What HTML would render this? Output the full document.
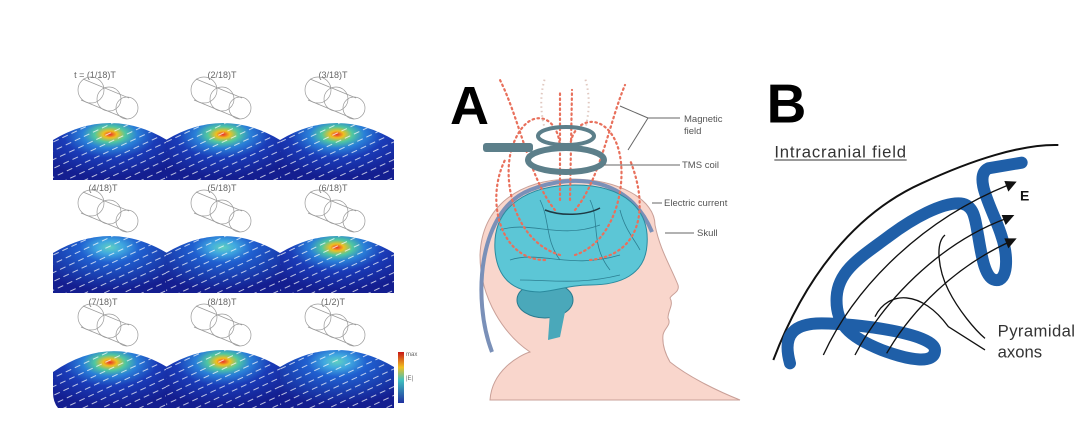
<!DOCTYPE html>
<html><head><meta charset="utf-8"><style>
html,body{margin:0;padding:0;background:#fff;}
svg{display:block;}
text{font-family:"Liberation Sans",sans-serif;}
</style></head><body>
<svg width="1080" height="446" viewBox="0 0 1080 446" xmlns="http://www.w3.org/2000/svg">
<defs>
<radialGradient id="hot" cx="0.5" cy="0.2" r="0.75">
<stop offset="0" stop-color="#e8302a"/>
<stop offset="0.08" stop-color="#f0c020"/>
<stop offset="0.18" stop-color="#50c8a0"/>
<stop offset="0.32" stop-color="#2a80d8"/>
<stop offset="0.55" stop-color="#1a3cb8"/>
<stop offset="1" stop-color="#141e90"/>
</radialGradient>
<radialGradient id="cool" cx="0.5" cy="0.2" r="0.75">
<stop offset="0" stop-color="#60d0c0"/>
<stop offset="0.15" stop-color="#40a8e0"/>
<stop offset="0.35" stop-color="#2060d0"/>
<stop offset="1" stop-color="#141e90"/>
</radialGradient>
<pattern id="arr" width="10" height="8" patternUnits="userSpaceOnUse" patternTransform="rotate(-25)">
<line x1="1" y1="4" x2="7" y2="4" stroke="#fff" stroke-width="0.9" opacity="0.8"/>
</pattern>
<linearGradient id="cb" x1="0" y1="0" x2="0" y2="1">
<stop offset="0" stop-color="#c81818"/><stop offset="0.3" stop-color="#f0c020"/>
<stop offset="0.55" stop-color="#40c0c0"/><stop offset="1" stop-color="#2030a0"/>
</linearGradient>
<g id="wf" fill="none" stroke="#999" stroke-width="0.7"><circle cx="38" cy="-30" r="13"/><circle cx="56" cy="-21" r="12"/><circle cx="74" cy="-12" r="11"/><line x1="30" y1="-41" x2="76" y2="-22"/><line x1="28" y1="-20" x2="74" y2="-1"/></g>
</defs>

<g font-size="9" fill="#666">
<text x="95" y="78" text-anchor="middle">t = (1/18)T</text>
<text x="222" y="78" text-anchor="middle">(2/18)T</text>
<text x="333" y="78" text-anchor="middle">(3/18)T</text>
<text x="103" y="191" text-anchor="middle">(4/18)T</text>
<text x="222" y="191" text-anchor="middle">(5/18)T</text>
<text x="333" y="191" text-anchor="middle">(6/18)T</text>
<text x="103" y="305" text-anchor="middle">(7/18)T</text>
<text x="222" y="305" text-anchor="middle">(8/18)T</text>
<text x="333" y="305" text-anchor="middle">(1/2)T</text>
</g>
<g>
<g transform="translate(53,120)"><path d="M0,20 Q57,-14 114,20 L114,60 L0,60Z" fill="url(#hot)"/><path d="M0,20 Q57,-14 114,20 L114,60 L0,60Z" fill="url(#arr)"/><use href="#wf"/></g>
<g transform="translate(166,120)"><path d="M0,20 Q57,-14 114,20 L114,60 L0,60Z" fill="url(#hot)"/><path d="M0,20 Q57,-14 114,20 L114,60 L0,60Z" fill="url(#arr)"/><use href="#wf"/></g>
<g transform="translate(280,120)"><path d="M0,20 Q57,-14 114,20 L114,60 L0,60Z" fill="url(#hot)"/><path d="M0,20 Q57,-14 114,20 L114,60 L0,60Z" fill="url(#arr)"/><use href="#wf"/></g>
<g transform="translate(53,233)"><path d="M0,20 Q57,-14 114,20 L114,60 L0,60Z" fill="url(#cool)"/><path d="M0,20 Q57,-14 114,20 L114,60 L0,60Z" fill="url(#arr)"/><use href="#wf"/></g>
<g transform="translate(166,233)"><path d="M0,20 Q57,-14 114,20 L114,60 L0,60Z" fill="url(#cool)"/><path d="M0,20 Q57,-14 114,20 L114,60 L0,60Z" fill="url(#arr)"/><use href="#wf"/></g>
<g transform="translate(280,233)"><path d="M0,20 Q57,-14 114,20 L114,60 L0,60Z" fill="url(#hot)"/><path d="M0,20 Q57,-14 114,20 L114,60 L0,60Z" fill="url(#arr)"/><use href="#wf"/></g>
<g transform="translate(53,347)"><path d="M0,25 Q57,-14 114,20 L114,61 L5,61 Q0,55 0,45Z" fill="url(#hot)"/><path d="M0,25 Q57,-14 114,20 L114,61 L5,61 Q0,55 0,45Z" fill="url(#arr)"/><use href="#wf"/></g>
<g transform="translate(166,347)"><path d="M0,20 Q57,-14 114,20 L114,61 L0,61Z" fill="url(#hot)"/><path d="M0,20 Q57,-14 114,20 L114,61 L0,61Z" fill="url(#arr)"/><use href="#wf"/></g>
<g transform="translate(280,347)"><path d="M0,20 Q57,-14 114,20 L114,61 L0,61Z" fill="url(#cool)"/><path d="M0,20 Q57,-14 114,20 L114,61 L0,61Z" fill="url(#arr)"/><use href="#wf"/></g>
</g>
<rect x="398" y="352" width="6" height="51" fill="url(#cb)"/>
<text x="406" y="356" font-size="6" fill="#666">max</text>
<text x="406" y="380" font-size="6" fill="#666">|E|</text>

<!-- Panel A -->
<text x="450" y="124" font-size="54" font-weight="bold" fill="#000">A</text>
<path d="M490,400 C492,370 520,355 530,352 C505,335 480,300 480,255 C482,205 520,180 570,179 C620,179 655,200 655,225 C660,250 670,265 678,285 C680,292 672,294 670,298 C674,305 668,310 668,318 C672,325 664,328 663,335 C662,345 666,355 670,362 C690,378 720,392 740,400 Z" fill="#f9d6cc" stroke="#c9a098" stroke-width="1"/>
<path d="M492,352 C472,300 478,210 530,190 C575,172 630,178 652,232" fill="none" stroke="#7a90b8" stroke-width="4"/>
<ellipse cx="545" cy="300" rx="28" ry="18" fill="#4aa8ba" stroke="#2a7a8e"/>
<path d="M550,312 L548,340 L560,337 L565,312Z" fill="#4aa8ba"/>
<path d="M495,250 C492,205 530,185 575,185 C625,185 650,210 647,245 C645,275 620,285 590,285 C570,285 560,290 540,292 C510,292 497,275 495,250Z" fill="#5cc6d6" stroke="#2a8a9e" stroke-width="1"/>
<g fill="none" stroke="#2d7f92" stroke-width="0.8">
<path d="M500,230 C530,220 560,240 600,225"/><path d="M510,260 C540,250 570,270 620,255"/><path d="M540,200 C550,220 545,240 560,260"/><path d="M590,200 C600,220 590,245 610,270"/><path d="M520,280 C550,280 580,285 620,275"/><path d="M620,210 C625,230 635,240 640,250"/>
</g>
<g fill="none" stroke="#e8705c" stroke-width="2.2" stroke-dasharray="1.5 3.5" stroke-linecap="round">
<path d="M555,210 C530,180 520,120 500,80"/><path d="M575,210 C600,180 610,120 625,85"/>
<path d="M560,255 C510,240 500,170 515,140 C530,105 560,115 560,150"/>
<path d="M575,255 C620,240 630,170 615,140 C600,110 570,120 570,150"/>
<path d="M545,260 C500,260 485,200 505,160"/><path d="M590,260 C640,255 650,210 630,160"/>
<path d="M560,200 L560,90"/><path d="M570,200 L572,90"/>
</g>
<g fill="none" stroke="#e0c8c0" stroke-width="2" stroke-dasharray="1.5 3">
<path d="M545,130 C540,110 540,95 545,78"/><path d="M585,130 C590,110 590,95 585,78"/>
</g>
<rect x="483" y="143" width="50" height="9" rx="3" fill="#5c7f8a"/>
<ellipse cx="566" cy="136" rx="28" ry="9" fill="none" stroke="#5c7f8a" stroke-width="4"/>
<ellipse cx="566" cy="160" rx="38" ry="12" fill="none" stroke="#5c7f8a" stroke-width="6"/>
<path d="M545,210 C560,216 585,216 600,208" fill="none" stroke="#1e3a44" stroke-width="1.5"/>
<g stroke="#666" stroke-width="1" fill="none">
<path d="M620,106 L648,118 L628,150"/><line x1="648" y1="118" x2="680" y2="118"/>
<line x1="604" y1="165" x2="680" y2="165"/>
<line x1="652" y1="203" x2="662" y2="203"/>
<line x1="665" y1="233" x2="694" y2="233"/>
</g>
<g font-size="9.5" fill="#555">
<text x="684" y="122">Magnetic</text><text x="684" y="134">field</text>
<text x="682" y="168">TMS coil</text>
<text x="664" y="206">Electric current</text>
<text x="697" y="236">Skull</text>
</g>

<!-- Panel B -->
<g transform="translate(755,70) scale(0.33333)">
<text x="35" y="157" font-size="165" font-weight="bold" fill="#000">B</text>
<text x="58" y="262" font-size="50" fill="#333" textLength="395">Intracranial field</text>
<line x1="58" y1="270" x2="455" y2="270" stroke="#333" stroke-width="3"/>
<path d="M55,870 C150,620 300,430 500,340 C650,270 800,222 910,225" fill="none" stroke="#111" stroke-width="6"/>
<path d="M105,880 C80,790 120,760 200,760 C300,760 540,790 540,840 C540,885 460,870 380,840 C280,800 240,760 245,680 C250,600 320,560 400,500 C480,440 560,400 610,400 C660,400 660,450 670,500 C680,560 690,625 720,630 C760,636 760,560 740,500 C720,430 650,320 700,295 L800,278" fill="none" stroke="#1f5fa8" stroke-width="36" stroke-linecap="round" stroke-linejoin="round"/>
<g fill="none" stroke="#111" stroke-width="4">
<path d="M205,855 C300,650 500,450 760,345"/>
<path d="M300,855 C380,700 550,520 755,445"/>
<path d="M395,850 C470,720 600,590 765,515"/>
<path d="M360,740 C400,660 500,660 580,770 L690,840"/>
<path d="M570,495 C540,520 550,600 580,660 C610,720 660,780 690,805"/>
</g>
<g fill="#111">
<path d="M785,335 L748,333 L760,365Z"/>
<path d="M778,435 L740,435 L752,465Z"/>
<path d="M785,505 L748,505 L760,535Z"/>
</g>
<text x="795" y="392" font-size="42" font-weight="bold" fill="#111">E</text>
<text x="728" y="800" font-size="50" fill="#333" textLength="232">Pyramidal</text>
<text x="728" y="862" font-size="50" fill="#333">axons</text>
</g>
</svg>
</body></html>
